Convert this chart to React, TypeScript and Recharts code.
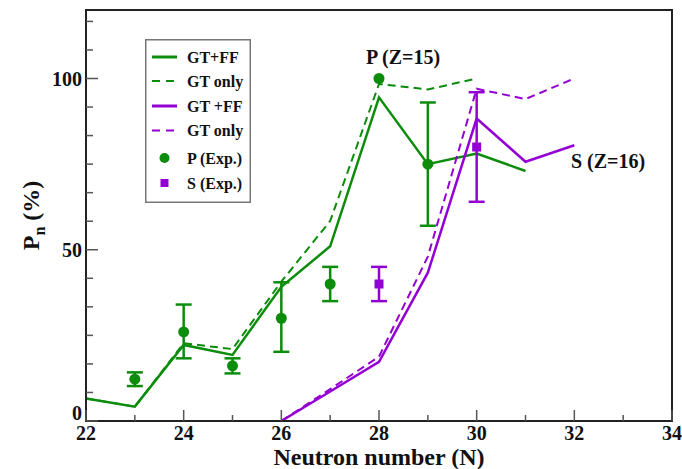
import { ComposedChart, Line, Scatter, ErrorBar, XAxis, YAxis, Legend, ReferenceArea } from 'recharts';

const GREEN = '#0b8c0b';
const PURPLE = '#9400d3';
const FONT = '"Liberation Serif", "Times New Roman", serif';
const txt = { fontFamily: FONT, fontWeight: 700 as const };

// theory curves, P isotopes
const neutronsP = [22, 23, 24, 25, 26, 27, 28, 29, 30, 31];
const pGtFF = [6.6, 4.2, 22.2, 19.3, 39.2, 51, 94.5, 75, 78.1, 73];
const neutronsPGtOnly = [22, 23, 24, 25, 26, 27, 28, 29, 30];
const pGtOnly = [6.6, 4.2, 22.7, 21, 40.7, 58.4, 98.4, 96.8, 100];

// theory curves, S isotopes
const neutronsS = [26, 27, 28, 29, 30, 31, 32];
const sGtFF = [0, 8.6, 17.3, 43.3, 88.3, 75.7, 80.5];
const sGtOnly = [0, 9.3, 18.8, 48, 97, 94, 100];

// experiment (null = no error bar drawn)
const pExpN = [23, 24, 25, 26, 27, 28, 29];
const pExpVal = [12.2, 26, 16.1, 30, 40, 100, 75];
const pExpLow = [2, 7.7, 2.2, 9.8, 5, null, 18];
const pExpHigh = [2, 8, 2.2, 10.5, 5, null, 18];

const sExpN = [28, 30];
const sExpVal = [40, 80];
const sExpLow = [5, 16];
const sExpHigh = [5, 16];

const xTicks = [22, 23, 24, 25, 26, 27, 28, 29, 30, 31, 32, 33, 34];
const yTicks = [0, 8.333, 16.667, 25, 33.333, 41.667, 50, 58.333, 66.667, 75, 83.333, 91.667, 100, 108.333, 116.667];

const legendLabels = ['GT+FF', 'GT only', 'GT +FF', 'GT only', 'P (Exp.)', 'S (Exp.)'];

const toPoints = (xs: number[], ys: number[]) => xs.map((x, i) => ({ x, y: ys[i] }));
const toExp = (xs: number[], ys: number[], lo: (number | null)[], hi: (number | null)[]) =>
  xs.map((x, i) => ({ x, y: ys[i], err: lo[i] == null ? null : [lo[i], hi[i]] }));

const pFF = toPoints(neutronsP, pGtFF);
const pGT = toPoints(neutronsPGtOnly, pGtOnly);
const sFF = toPoints(neutronsS, sGtFF);
const sGT = toPoints(neutronsS, sGtOnly);
const pExp = toExp(pExpN, pExpVal, pExpLow, pExpHigh);
const sExp = toExp(sExpN, sExpVal, sExpLow, sExpHigh);

const XTick = (props: any) => {
  const { x, y, payload } = props;
  const v = payload.value;
  const major = v % 2 === 0;
  return (
    <g>
      <line x1={x} x2={x} y1={y} y2={y - (major ? 11 : 6)} stroke="#555" strokeWidth={1.5} />
      {major && (
        <text x={x} y={y + 19} textAnchor="middle" style={{ ...txt, fontSize: 20 }} fill="#111">
          {v}
        </text>
      )}
    </g>
  );
};

const YTick = (props: any) => {
  const { x, y, payload } = props;
  const v = payload.value;
  const major = Math.abs(v % 50) < 0.01;
  return (
    <g>
      <line x1={x} x2={x + (major ? 12 : 7)} y1={y} y2={y} stroke="#555" strokeWidth={1.5} />
      {major && (
        <text x={x - 4} y={v === 0 ? y - 1 : y + 7} textAnchor="end" style={{ ...txt, fontSize: 20 }} fill="#111">
          {v}
        </text>
      )}
    </g>
  );
};

const LegendBox = () => {
  const rows = [18, 42, 67, 91.5, 119, 144];
  return (
    <svg width={106} height={164}>
      <rect x={0.75} y={0.75} width={104.5} height={162.5} fill="#fff" stroke="#777" strokeWidth={1.5} />
      <line x1={7} x2={32} y1={rows[0]} y2={rows[0]} stroke={GREEN} strokeWidth={3} />
      <line x1={7} x2={32} y1={rows[1]} y2={rows[1]} stroke={GREEN} strokeWidth={2} strokeDasharray="8 6" />
      <line x1={7} x2={32} y1={rows[2]} y2={rows[2]} stroke={PURPLE} strokeWidth={3} />
      <line x1={7} x2={32} y1={rows[3]} y2={rows[3]} stroke={PURPLE} strokeWidth={2} strokeDasharray="8 6" />
      <circle cx={19.5} cy={rows[4]} r={5} fill={GREEN} />
      <rect x={15.5} y={rows[5] - 4} width={8} height={8} fill={PURPLE} />
      {legendLabels.map((t, i) => (
        <text key={i} x={42} y={rows[i] + 5.5} style={{ ...txt, fontSize: 16 }} fill="#111">
          {t}
        </text>
      ))}
    </svg>
  );
};

const XTitle = (props: any) => {
  const { viewBox } = props;
  return (
    <text x={viewBox.x + viewBox.width / 2} y={465} textAnchor="middle" style={{ ...txt, fontSize: 24 }} fill="#111">
      Neutron number (N)
    </text>
  );
};

const YTitle = (props: any) => {
  const { viewBox } = props;
  const cy = viewBox.y + viewBox.height / 2;
  return (
    <text x={39} y={cy} transform={`rotate(-90 39 ${cy})`} textAnchor="middle" style={{ ...txt, fontSize: 24 }} fill="#111">
      P<tspan fontSize={16} dy={6}>n</tspan>
      <tspan dy={-6}> (%)</tspan>
    </text>
  );
};

const circleShape = (props: any) => <circle cx={props.cx} cy={props.cy} r={5.5} fill={GREEN} />;
const squareShape = (props: any) => <rect x={props.cx - 4.5} y={props.cy - 4.5} width={9} height={9} fill={PURPLE} />;

export default function App() {
  return (
    <div style={{ position: 'absolute', left: 0, top: 0, background: '#fff', fontFamily: FONT }}>
      <ComposedChart width={682} height={469} margin={{ top: 10, right: 10, left: 0, bottom: 0 }}>
        <XAxis
          dataKey="x"
          type="number"
          domain={[22, 34]}
          ticks={xTicks}
          interval={0}
          allowDataOverflow
          height={48}
          tickSize={0}
          tickMargin={0}
          tickLine={false}
          tick={<XTick />}
          axisLine={{ stroke: '#222', strokeWidth: 2 }}
          label={{ content: <XTitle /> }}
        />
        <YAxis
          dataKey="y"
          type="number"
          domain={[0, 120]}
          ticks={yTicks}
          interval={0}
          allowDataOverflow
          width={86}
          tickSize={0}
          tickMargin={0}
          tickLine={false}
          tick={<YTick />}
          axisLine={{ stroke: '#222', strokeWidth: 2 }}
          label={{ content: <YTitle /> }}
        />
        <ReferenceArea x1={22} x2={34} y1={0} y2={120} fill="none" stroke="#222" strokeWidth={2} ifOverflow="visible" />
        <Legend
          content={<LegendBox />}
          layout="vertical"
          align="center"
          verticalAlign="middle"
          wrapperStyle={{ left: 145, top: 39, width: 106, height: 164 }}
        />
        <Line data={pGT} dataKey="y" type="linear" stroke={GREEN} strokeWidth={2} strokeDasharray="8 5" dot={false} isAnimationActive={false} />
        <Line data={pFF} dataKey="y" type="linear" stroke={GREEN} strokeWidth={2.5} dot={false} isAnimationActive={false} />
        <Line data={sGT} dataKey="y" type="linear" stroke={PURPLE} strokeWidth={2} strokeDasharray="8 5" dot={false} isAnimationActive={false} />
        <Line data={sFF} dataKey="y" type="linear" stroke={PURPLE} strokeWidth={2.5} dot={false} isAnimationActive={false} />
        <Scatter data={pExp} dataKey="y" shape={circleShape} isAnimationActive={false}>
          <ErrorBar dataKey="err" direction="y" width={8} stroke={GREEN} strokeWidth={2.5} />
        </Scatter>
        <Scatter data={sExp} dataKey="y" shape={squareShape} isAnimationActive={false}>
          <ErrorBar dataKey="err" direction="y" width={8} stroke={PURPLE} strokeWidth={2.5} />
        </Scatter>
        <text x={366} y={64} style={{ ...txt, fontSize: 20 }} fill="#111">
          P (Z=15)
        </text>
        <text x={571} y={168} style={{ ...txt, fontSize: 20 }} fill="#111">
          S (Z=16)
        </text>
      </ComposedChart>
    </div>
  );
}
